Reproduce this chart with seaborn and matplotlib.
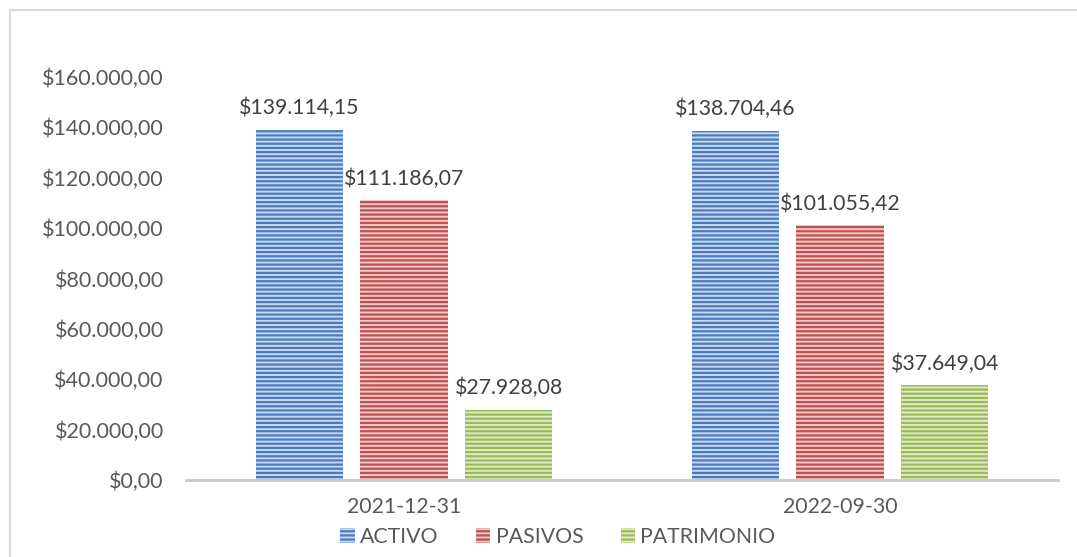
import matplotlib
matplotlib.use("Agg")
import matplotlib.pyplot as plt
import seaborn as sns
import pandas as pd
from matplotlib.patches import Patch
from matplotlib.lines import Line2D

categories = ["2021-12-31", "2022-09-30"]
series = ["ACTIVO", "PASIVOS", "PATRIMONIO"]
activo = [139114.15, 138704.46]
pasivos = [111186.07, 101055.42]
patrimonio = [27928.08, 37649.04]
yticks = [0, 20000, 40000, 60000, 80000, 100000, 120000, 140000, 160000]

face = {"ACTIVO": "#C9D8EE", "PASIVOS": "#EFC9C8", "PATRIMONIO": "#DDEBC6"}
edge = {"ACTIVO": "#4A7CC0", "PASIVOS": "#C0504D", "PATRIMONIO": "#9BBB59"}

rows = []
for s, vals in zip(series, [activo, pasivos, patrimonio]):
    for c, v in zip(categories, vals):
        rows.append({"cat": c, "serie": s, "valor": v})
df = pd.DataFrame(rows)

def fmt(v):
    s = f"{v:,.2f}"
    s = s.replace(",", "X").replace(".", ",").replace("X", ".")
    return "$" + s

sns.set_theme(style="white")
plt.rcParams["font.family"] = ["Lato", "DejaVu Sans"]
plt.rcParams["hatch.linewidth"] = 1.6

fig = plt.figure(figsize=(10.77, 5.57), dpi=100)
ax = fig.add_axes([186/1077, 1-480/557, (1058-186)/1077, (480-77)/557])

sns.barplot(data=df, x="cat", y="valor", hue="serie", order=categories,
            hue_order=series, palette=[face[s] for s in series],
            width=0.722, gap=0.17, ax=ax, legend=False, saturation=1)

for cont, s in zip(ax.containers, series):
    for p in cont.patches:
        p.set_hatch("----")
        p.set_edgecolor(edge[s])
        p.set_linewidth(0)
    ax.bar_label(cont, labels=[fmt(v) for v in cont.datavalues], padding=8,
                 fontsize=15.3, color="#404040")

ax.set_ylim(0, 160000)
ax.set_yticks(yticks)
ax.set_yticklabels([fmt(v) for v in yticks])
ax.tick_params(axis="y", length=0, pad=16, labelsize=15.5, labelcolor="#595959")
ax.tick_params(axis="x", length=0, pad=12, labelsize=15.3, labelcolor="#595959")
ax.set_xlabel("")
ax.set_ylabel("")
for side in ["top", "right", "left"]:
    ax.spines[side].set_visible(False)
ax.spines["bottom"].set_color("#C8C8C8")
ax.spines["bottom"].set_linewidth(2)

handles = [Patch(facecolor=face[s], edgecolor=edge[s], hatch="----", linewidth=0) for s in series]
fig.legend(handles, series, loc="center", bbox_to_anchor=(558/1077, 1-537/557),
           ncol=3, frameon=False, fontsize=15.3, labelcolor="#595959",
           handlelength=0.68, handleheight=0.68, handletextpad=0.25, columnspacing=1.75)

fig.add_artist(Line2D([10/1077, 10/1077], [0, 1-10/557], transform=fig.transFigure,
                      color="#D9D9D9", linewidth=1.5))
fig.add_artist(Line2D([10/1077, 1.0], [1-10/557, 1-10/557], transform=fig.transFigure,
                      color="#D9D9D9", linewidth=1.5))

fig.savefig("out.png", dpi=100)
